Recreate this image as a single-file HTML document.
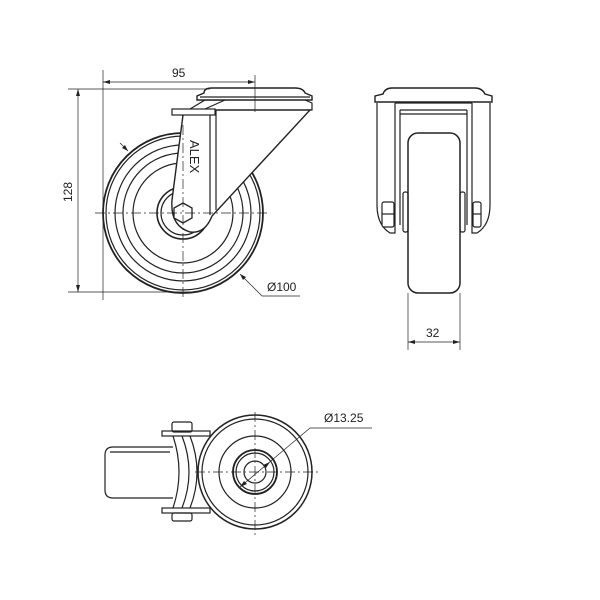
<!DOCTYPE html>
<html><head><style>body{margin:0;background:#fff}svg{display:block}text{font-family:"Liberation Sans",sans-serif;fill:#222}</style></head><body>
<svg width="600" height="600" viewBox="0 0 600 600" fill="none" stroke="#222" stroke-width="1.2">
<!-- SIDE VIEW -->
<g>
<circle cx="183" cy="213" r="80" stroke-width="1.8"/>
<circle cx="183" cy="213" r="77"/>
<circle cx="183" cy="213" r="68"/>
<circle cx="183" cy="213" r="60"/>
<circle cx="183" cy="213" r="50"/>
<circle cx="183" cy="213" r="26" stroke-width="1.6"/>
<circle cx="183" cy="213" r="22"/>
<path d="M183 115 L172 200 Q170 226 190 232 Q205 234 212 216 L310 110 L216 110 Z" fill="#fff" stroke-width="1.4"/>
<line x1="210" y1="112" x2="210" y2="215"/>
<line x1="216" y1="110" x2="216" y2="210"/>
<rect x="172" y="109" width="43" height="6" fill="#fff"/>
<path d="M190 109 L205 100 L225 100 L205 109"/>
<path d="M197 100 L312 100 L312 96 L305 93 Q303 88 295 88 L212 88 Q204 88 204 93 L197 96 Z" fill="#fff" stroke-width="1.4"/>
<line x1="200" y1="97" x2="310" y2="97"/>
<path d="M305 100 L312 103 L312 110 L308 110"/>
<polygon points="183,203 192,208 192,218 183,223 174,218 174,208" fill="#fff" stroke-width="1.3"/>
<text x="0" y="0" font-size="13" transform="translate(190,140) rotate(90)" stroke="none">ALEX</text>
<g stroke-dasharray="10,3,2,3" stroke-width="0.7">
<line x1="95" y1="213" x2="270" y2="213"/>
<line x1="183" y1="125" x2="183" y2="300"/>
</g>
<g stroke-width="0.7">
<line x1="103" y1="70" x2="103" y2="300"/>
<line x1="255" y1="75" x2="255" y2="112"/>
<line x1="103" y1="82" x2="255" y2="82"/>
<line x1="68" y1="89" x2="210" y2="89"/>
<line x1="68" y1="292" x2="190" y2="292"/>
<line x1="78" y1="89" x2="78" y2="292"/>
<line x1="120" y1="143" x2="128" y2="151"/>
<line x1="240" y1="274" x2="262" y2="296"/>
<line x1="262" y1="296" x2="300" y2="296"/>
</g>
<g fill="#222" stroke="none">
<polygon points="103,82 110,80 110,84"/><polygon points="255,82 248,80 248,84"/>
<polygon points="78,89 76,96 80,96"/><polygon points="78,292 76,285 80,285"/>
<polygon points="128,151 122,148 125,145"/><polygon points="240,274 246,277 243,280"/>
</g>
<text x="172" y="77" font-size="12" stroke="none">95</text>
<text transform="translate(72,202) rotate(-90)" font-size="12" stroke="none">128</text>
<text x="267" y="291" font-size="12" stroke="none">Ø100</text>
</g>
<!-- FRONT VIEW -->
<g>
<path d="M377 103 L377 205 Q377 225 390 233 L395 233 L395 103" fill="#fff"/>
<path d="M490 103 L490 205 Q490 225 477 233 L472 233 L472 103" fill="#fff"/>
<line x1="395" y1="103" x2="472" y2="103"/>
<line x1="400" y1="110" x2="467" y2="110"/>
<line x1="400" y1="114" x2="467" y2="114"/>
<line x1="400" y1="110" x2="400" y2="225"/>
<line x1="467" y1="110" x2="467" y2="225"/>
<rect x="408" y="133" width="52" height="160" rx="10" fill="#fff" stroke-width="1.5"/>
<rect x="403" y="192" width="5" height="40" rx="2"/>
<rect x="460" y="192" width="5" height="40" rx="2"/>
<rect x="382" y="202" width="12" height="25" rx="2" fill="#fff"/>
<rect x="473" y="202" width="8" height="25" rx="2" fill="#fff"/>
<line x1="382" y1="214" x2="394" y2="214"/><line x1="473" y1="214" x2="481" y2="214"/>
<path d="M375 102 L492 102 L492 96 L485 94 Q482 88 475 88 L392 88 Q385 88 383 94 L375 96 Z" fill="#fff" stroke-width="1.4"/>
<g stroke-width="0.7">
<line x1="408" y1="293" x2="408" y2="350"/>
<line x1="460" y1="293" x2="460" y2="350"/>
<line x1="408" y1="342" x2="460" y2="342"/>
</g>
<g fill="#222" stroke="none"><polygon points="408,342 415,340 415,344"/><polygon points="460,342 453,340 453,344"/></g>
<text x="426" y="337" font-size="12" stroke="none">32</text>
</g>
<!-- TOP VIEW -->
<g>
<path d="M173 447 L113 447 Q105 447 105 455 L105 490 Q105 498 113 498 L173 498" fill="#fff"/>
<line x1="110" y1="452" x2="170" y2="452"/>
<rect x="162" y="431" width="48" height="5"/>
<rect x="162" y="508" width="48" height="5"/>
<rect x="172" y="422" width="20" height="10" rx="2"/>
<rect x="172" y="513" width="20" height="8" rx="2"/>
<path d="M173 436 Q185 472 173 508"/>
<path d="M182 436 Q196 472 182 508"/>
<path d="M190 436 Q204 472 190 508"/>
<circle cx="255" cy="472" r="57" fill="#fff" stroke-width="1.5"/>
<circle cx="255" cy="472" r="53"/>
<circle cx="255" cy="472" r="36"/>
<circle cx="255" cy="472" r="22" stroke-width="1.8"/>
<circle cx="255" cy="472" r="19"/>
<circle cx="255" cy="472" r="11"/>
<g stroke-dasharray="10,3,2,3" stroke-width="0.7">
<line x1="195" y1="472" x2="318" y2="472"/>
<line x1="255" y1="412" x2="255" y2="535"/>
</g>
<g stroke-width="0.7">
<line x1="240" y1="487" x2="310" y2="428"/>
<line x1="310" y1="428" x2="372" y2="428"/>
</g>
<g fill="#222" stroke="none"><polygon points="240,487 244,481 247,484"/><polygon points="270,462 266,468 263,465"/></g>
<text x="324" y="422" font-size="12" stroke="none">Ø13.25</text>
</g>
</svg>
</body></html>
